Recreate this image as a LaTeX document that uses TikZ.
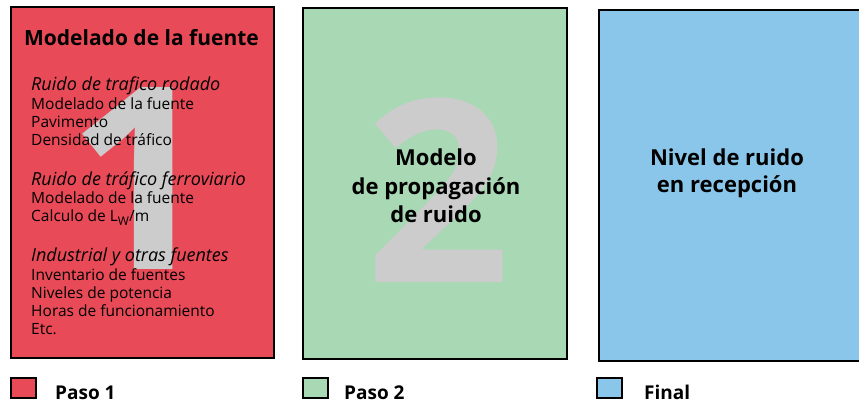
\documentclass[tikz,border=0pt]{standalone}
\usepackage{fontspec}
\setmainfont{Open Sans}
\usepackage{tikz}
\usetikzlibrary{positioning}
\definecolor{fuente}{HTML}{E84A57}
\definecolor{propag}{HTML}{A8D8B4}
\definecolor{recep}{HTML}{89C6EA}
\definecolor{cifra}{HTML}{CCCCCC}
\tikzset{
  stepbox/.style={draw=black,line width=2pt,anchor=north west,inner sep=0pt,minimum height=351pt},
  bignum/.style={text=cifra,font=\bfseries\fontsize{255}{255}\selectfont,inner sep=0pt,anchor=base},
  lista/.style={align=left,inner sep=0pt,font=\fontsize{15.5}{18.3}\selectfont},
  rotulo/.style={align=center,inner sep=0pt,font=\bfseries\fontsize{22}{28.5}\selectfont},
  keybox/.style={draw=black,line width=2pt,minimum width=25pt,minimum height=20pt,inner sep=0pt,anchor=north west},
}
\newcommand\cab[1]{{\itshape\fontsize{18}{19}\selectfont #1}\\}

\begin{document}
\begin{tikzpicture}[x=1pt,y=-1pt]
\clip (0,0) rectangle (859,403);
% the three steps
\node[stepbox,fill=fuente,minimum width=263pt] (paso1) at (10,6) {};
\node[stepbox,fill=propag,minimum width=264pt] (paso2) at (302,7) {};
\node[stepbox,fill=recep,minimum width=275pt] (final) at (598,9) {};
\node[bignum] (uno) at (140,270) {1};
\node[bignum] (dos) at (438,283) {2};

\node[font=\bfseries\fontsize{21}{25}\selectfont,inner sep=0pt] (titulo) at (141.5,38) {Modelado de la fuente};
\node[lista,anchor=north west] (rodado) at (31,77) {\cab{Ruido de trafico rodado}Modelado de la fuente\\Pavimento\\Densidad de tráfico};
\node[lista,below right=25pt and 0pt of rodado.south west] (ferro) {\cab{Ruido de tráfico ferroviario}Modelado de la fuente\\Calculo de L\raisebox{-0.45ex}{\fontsize{12}{12}\selectfont W}/m};
\node[lista,below right=22pt and 0pt of ferro.south west] (industria) {\cab{Industrial y otras fuentes}Inventario de fuentes\\Niveles de potencia\\Horas de funcionamiento\\Etc.};

\node[rotulo] (propagacion) at (436,186) {Modelo\\de propagación\\de ruido};
\node[rotulo,font=\bfseries\fontsize{22}{27}\selectfont] (recepcion) at (727,173.5) {Nivel de ruido\\en recepción};

% legend
\foreach \c/\t/\x/\l [count=\k] in {fuente/Paso 1/10/55, propag/Paso 2/302/344, recep/Final/596/644} {
  \node[keybox,fill=\c] (clave\k) at (\x,377) {};
  \node[anchor=base west,inner sep=0pt,font=\bfseries\fontsize{19}{20}\selectfont] (nombre\k) at (\l,399) {\t};
}
\end{tikzpicture}
\end{document}
